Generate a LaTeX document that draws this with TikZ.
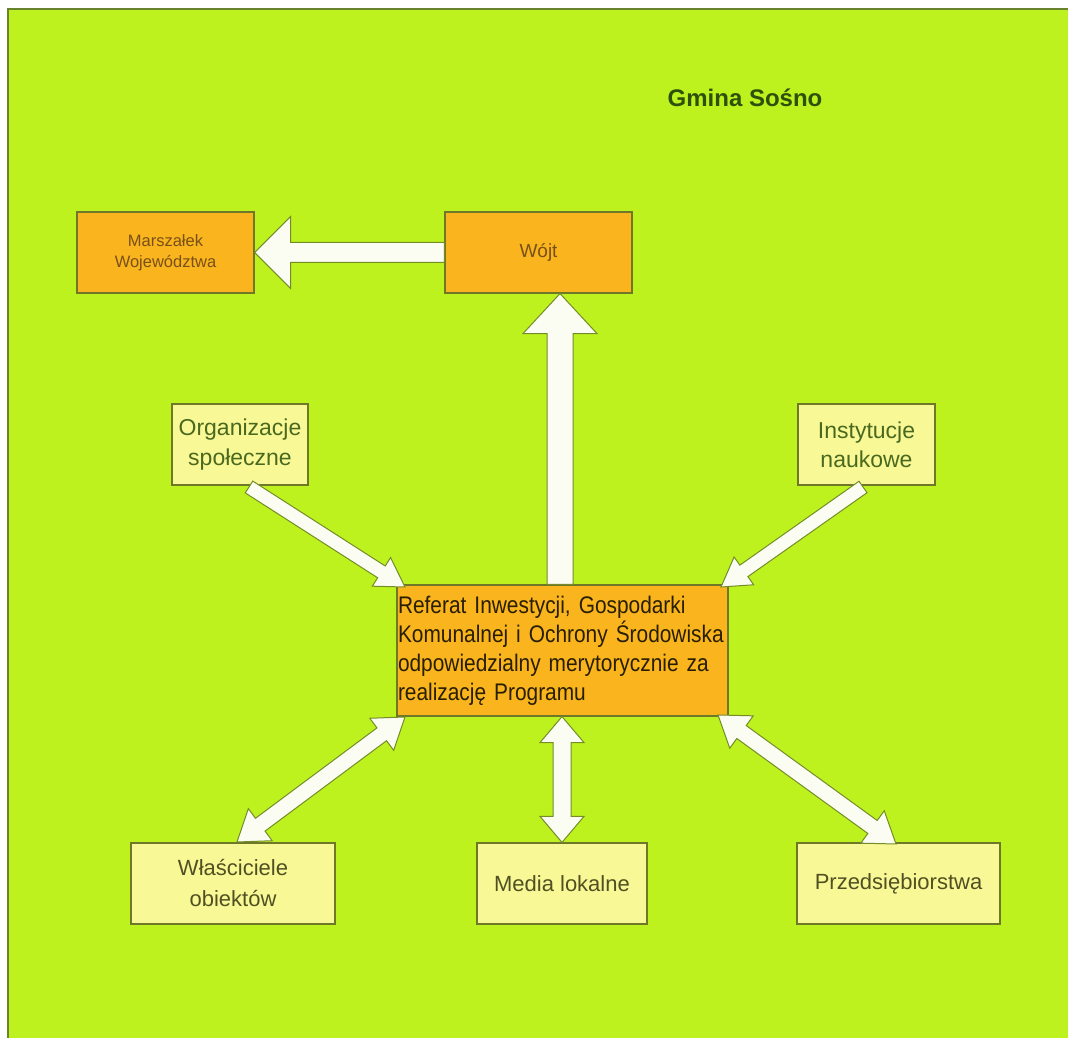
\documentclass[tikz,border=0pt]{standalone}
\usepackage{fontspec}
\setmainfont{Liberation Sans}
\newfontfamily\narrowfont[FakeStretch=0.87]{Liberation Sans}
\usetikzlibrary{calc}
\definecolor{bggreen}{RGB}{190,242,30}
\definecolor{panelline}{RGB}{105,130,45}
\definecolor{orangebox}{RGB}{250,180,30}
\definecolor{paleyellow}{RGB}{248,248,150}
\definecolor{boxline}{RGB}{110,120,40}
\definecolor{arrowfill}{RGB}{252,253,242}
\definecolor{arrowline}{RGB}{115,140,40}
\definecolor{titlegreen}{RGB}{45,80,10}
\definecolor{browntext}{RGB}{120,80,25}
\definecolor{greentext}{RGB}{75,105,30}
\definecolor{olivetext}{RGB}{80,80,35}
\definecolor{darktext}{RGB}{40,30,0}
\tikzset{
  obox/.style={draw=boxline, line width=1.2pt, fill=orangebox, minimum width=#1, minimum height=81pt, inner sep=0pt, align=center, text=browntext},
  ybox/.style={draw=boxline, line width=1.2pt, fill=paleyellow, minimum width=#1, minimum height=81pt, inner sep=0pt, align=center},
  blockarrow/.style={draw=arrowline, fill=arrowfill, line width=1pt, line join=miter}
}
\newcommand\singlearrow[5]{%
 \draw[blockarrow] let \p1=(#1),\p2=(#2),\n1={atan2(\y2-\y1,\x2-\x1)},\n2={veclen(\x2-\x1,\y2-\y1)} in
 ($(\p1)+(\n1+90:#3)$) -- ($(\p1)+(\n1:{\n2-#5})+(\n1+90:#3)$) -- ($(\p1)+(\n1:{\n2-#5})+(\n1+90:#4)$) -- (\p2)
 -- ($(\p1)+(\n1:{\n2-#5})+(\n1-90:#4)$) -- ($(\p1)+(\n1:{\n2-#5})+(\n1-90:#3)$) -- ($(\p1)+(\n1-90:#3)$) -- cycle;}
\newcommand\doublearrow[5]{%
 \draw[blockarrow] let \p1=(#1),\p2=(#2),\n1={atan2(\y2-\y1,\x2-\x1)},\n2={veclen(\x2-\x1,\y2-\y1)} in
 (\p1) -- ($(\p1)+(\n1:#5)+(\n1+90:#4)$) -- ($(\p1)+(\n1:#5)+(\n1+90:#3)$) -- ($(\p1)+(\n1:{\n2-#5})+(\n1+90:#3)$) -- ($(\p1)+(\n1:{\n2-#5})+(\n1+90:#4)$) -- (\p2)
 -- ($(\p1)+(\n1:{\n2-#5})+(\n1-90:#4)$) -- ($(\p1)+(\n1:{\n2-#5})+(\n1-90:#3)$) -- ($(\p1)+(\n1:#5)+(\n1-90:#3)$) -- ($(\p1)+(\n1:#5)+(\n1-90:#4)$) -- cycle;}
\begin{document}
\begin{tikzpicture}[x=1pt,y=1pt]
\useasboundingbox (0,0) rectangle (1068,1038);
\fill[white] (0,0) rectangle (1068,1038);
\filldraw[fill=bggreen, draw=panelline, line width=2pt] (8,-5) rectangle (1075,1029);

\node[text=titlegreen, font=\bfseries\fontsize{24}{28}\selectfont] (title) at (745,940) {Gmina Sośno};

\node[obox=177pt, font=\fontsize{16.5}{21}\selectfont] (mars) at (165.5,785.5) {Marszałek\\Województwa};
\node[obox=187pt, font=\fontsize{19}{22}\selectfont] (wojt) at (538.5,785.5) {Wójt};

\node[ybox=136pt, text=greentext, font=\fontsize{23}{30}\selectfont] (org) at (240,593.5) {Organizacje\\społeczne};
\node[ybox=137pt, text=greentext, font=\fontsize{23}{29}\selectfont] (inst) at (866.5,593.5) {Instytucje\\naukowe};

\node[draw=boxline, line width=1.2pt, fill=orangebox, minimum width=331pt, minimum height=131pt, text width=329pt, inner sep=1pt, align=left, text=darktext, font=\narrowfont\fontsize{24}{29}\selectfont] (ref) at (562.5,387.5) {\mbox{Referat Inwestycji, Gospodarki}\\\mbox{Komunalnej i Ochrony Środowiska}\\\mbox{odpowiedzialny merytorycznie za}\\\mbox{realizację Programu}};

\node[ybox=204pt, text=olivetext, font=\fontsize{22}{31}\selectfont] (wla) at (233,154.5) {Właściciele\\obiektów};
\node[ybox=170pt, text=olivetext, font=\fontsize{22}{26}\selectfont] (media) at (562,154.5) {Media lokalne};
\node[ybox=203pt, text=olivetext, font=\fontsize{22}{26}\selectfont] (prz) at (898.5,154.5) {Przedsiębiorstwa};

% connector end points
\coordinate (wojtW) at (wojt.west);
\coordinate (marsE) at (mars.east);
\coordinate (refN) at ($(ref.north)+(-2.5,0)$);
\coordinate (wojtS) at (refN |- wojt.south);
\coordinate (orgS) at (249,551);
\coordinate (refNW) at (405,451);
\coordinate (instS) at (863,551);
\coordinate (refNE) at (721,451);
\coordinate (wlaN) at (237,196);
\coordinate (refSW) at (405,321);
\coordinate (mediaN) at (media.north);
\coordinate (refS) at (ref.south -| media.north);
\coordinate (przN) at (896,194);
\coordinate (refSE) at (718,323);

\singlearrow{wojtW}{marsE}{10}{36}{36}
\singlearrow{refN}{wojtS}{13}{37}{40}
\singlearrow{orgS}{refNW}{7}{17}{28}
\singlearrow{instS}{refNE}{7}{17}{28}
\doublearrow{wlaN}{refSW}{8}{20}{29}
\doublearrow{mediaN}{refS}{9}{22}{26}
\doublearrow{przN}{refSE}{8}{20}{29}
\end{tikzpicture}
\end{document}
